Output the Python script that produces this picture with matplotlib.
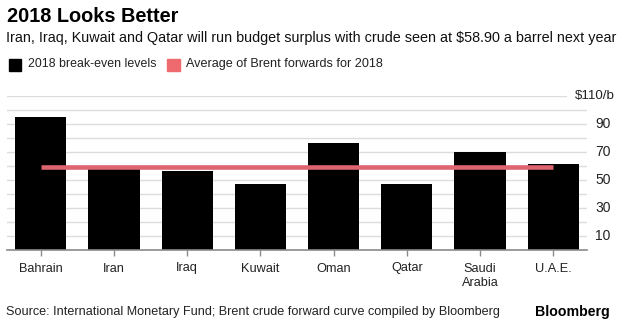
import numpy as np
import matplotlib.pyplot as plt
from matplotlib.patches import Rectangle
from matplotlib.transforms import blended_transform_factory

# break-even oil price per country, $/barrel
countries = ['Bahrain', 'Iran', 'Iraq', 'Kuwait', 'Oman', 'Qatar', 'Saudi\nArabia', 'U.A.E.']
breakeven = [95.0, 57.5, 56.0, 47.0, 76.0, 47.0, 70.0, 61.5]
brent_forward = 58.9
ytick_values = [10, 30, 50, 70, 90]

W, H = 627, 330
plt.rcParams['font.family'] = ['Liberation Sans', 'DejaVu Sans']
fig = plt.figure(figsize=(W / 100, H / 100), dpi=100)

def fx(px):
    return px / W

def fy(py):
    return 1 - py / H

ax_left, ax_right, ax_top, ax_bottom = 7, 587, 95.7, 250
ax = fig.add_axes([fx(ax_left), fy(ax_bottom), fx(ax_right - ax_left), (ax_bottom - ax_top) / H])
x = np.arange(len(countries))
ax.set_xlim(-0.46, len(countries) - 1 + 0.46)
ax.set_ylim(0, 110)

# light gridlines every 10; the top one stops short of the unit label
for v in range(10, 111, 10):
    xmax = (566 - ax_left) / (ax_right - ax_left) if v == 110 else 1
    ax.axhline(v, xmin=0, xmax=xmax, color='#dcdcdc', lw=1.0, zorder=0)

ax.bar(x, breakeven, width=0.7, color='black', zorder=2)
ax.plot([x[0], x[-1]], [brent_forward, brent_forward], color='#dd6570', lw=3.3,
        solid_capstyle='butt', zorder=3)

for s in ['top', 'right', 'left']:
    ax.spines[s].set_visible(False)
ax.spines['bottom'].set_color('#8a8a8a')
ax.spines['bottom'].set_linewidth(1.2)
ax.set_yticks([])
ax.set_xticks(x)
ax.set_xticklabels(countries, fontsize=9.2, color='#222222', linespacing=1.25)
ax.tick_params(axis='x', length=4, color='#8a8a8a', width=1, pad=5)

# right-side value labels placed in pixel x, data y
tr = blended_transform_factory(fig.transFigure, ax.transData)
for v in ytick_values:
    ax.text(fx(595), v, str(v), transform=tr, fontsize=10, color='#222222',
            va='center', ha='left', clip_on=False)
ax.text(fx(615), 110, '$110/b', transform=tr, fontsize=9.6, color='#222222',
        va='center', ha='right', clip_on=False)

fig.text(fx(7), fy(16), '2018 Looks Better', fontsize=14.3, fontweight='bold', va='center', ha='left')
fig.text(fx(6), fy(38), 'Iran, Iraq, Kuwait and Qatar will run budget surplus with crude seen at $58.90 a barrel next year',
         fontsize=10.4, va='center', ha='left', color='#111111')

fig.patches.append(Rectangle((fx(9), fy(70.5)), fx(12), 12 / H, transform=fig.transFigure,
                             color='black', figure=fig))
fig.text(fx(28), fy(64), '2018 break-even levels', fontsize=8.9, va='center', ha='left', color='#222222')
fig.patches.append(Rectangle((fx(167), fy(70.5)), fx(13), 12 / H, transform=fig.transFigure,
                             color='#ef6a6e', figure=fig))
fig.text(fx(186), fy(64), 'Average of Brent forwards for 2018', fontsize=9.1, va='center', ha='left', color='#222222')

fig.text(fx(6), fy(312), 'Source: International Monetary Fund; Brent crude forward curve compiled by Bloomberg',
         fontsize=9.1, va='center', ha='left', color='#222222')
fig.text(fx(610), fy(312), 'Bloomberg', fontsize=10.2, fontweight='bold', va='center', ha='right')

fig.savefig('out.png', dpi=100)
